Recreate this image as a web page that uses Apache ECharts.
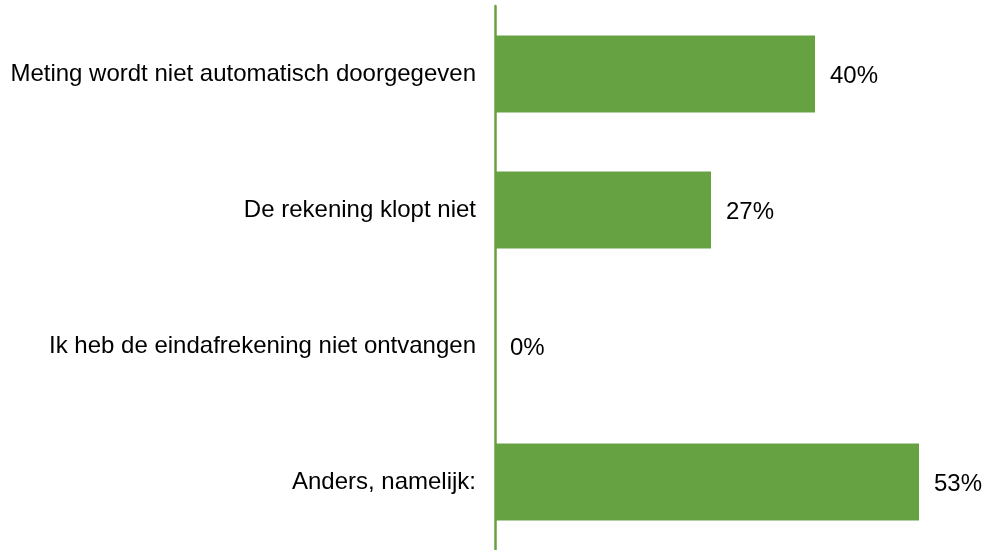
<!DOCTYPE html>
<html><head><meta charset="utf-8">
<script src="https://cdn.jsdelivr.net/npm/echarts@6/dist/echarts.min.js"></script>
<style>html,body{margin:0;padding:0;background:#fff}#c{width:984px;height:550px}</style>
</head><body><div id="c"></div>
<script>
const categories = ["Meting wordt niet automatisch doorgegeven","De rekening klopt niet","Ik heb de eindafrekening niet ontvangen","Anders, namelijk:"];
const values = [40, 27, 0, 53];
const chart = echarts.init(document.getElementById('c'), null, {renderer:'canvas'});
chart.setOption({
  animation:false,
  grid:{left:495, right:9, top:6, bottom:0, containLabel:false},
  xAxis:{type:'value', min:0, max:60, show:false},
  yAxis:{type:'category', data:categories, inverse:true,
    axisLine:{show:true, lineStyle:{color:'#66a142', width:2.5}},
    axisTick:{show:false},
    axisLabel:{fontFamily:'Liberation Sans, Arial, sans-serif', fontSize:24, color:'#000', margin:19, padding:[4,0,0,0]}
  },
  series:[{type:'bar', data:values, barWidth:77,
    itemStyle:{color:'#66a142'},
    label:{show:true, position:'right', distance:15, offset:[0,2], formatter:'{c}%', fontFamily:'Liberation Sans, Arial, sans-serif', fontSize:24, color:'#000'}
  }]
});
</script></body></html>
